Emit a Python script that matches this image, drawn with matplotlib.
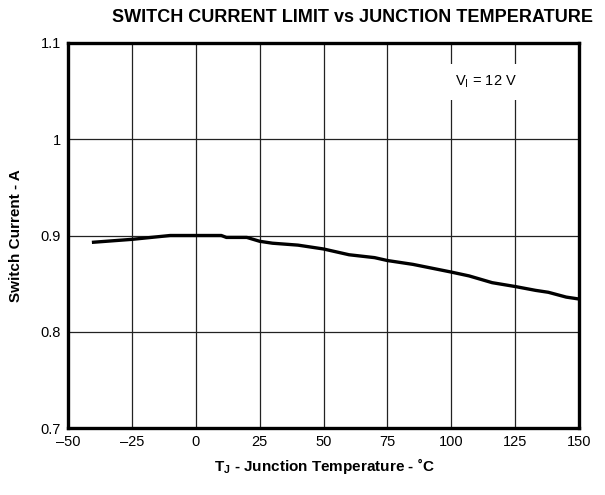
import matplotlib
matplotlib.use("Agg")
import matplotlib.pyplot as plt

plt.rcParams['font.family'] = ['Liberation Sans', 'DejaVu Sans']

temp_c = [-40, -25, -10, 0, 10, 12, 20, 25, 30, 40, 50, 60, 70, 75, 85, 100, 107, 116, 125, 133, 138, 145, 150]
current_a = [0.893, 0.896, 0.900, 0.900, 0.900, 0.898, 0.898, 0.894, 0.892, 0.890, 0.886, 0.880, 0.877, 0.874, 0.870, 0.862, 0.858, 0.851, 0.847, 0.843, 0.841, 0.836, 0.834]

x_ticks = [-50, -25, 0, 25, 50, 75, 100, 125, 150]
x_tick_labels = ['–50', '–25', '0', '25', '50', '75', '100', '125', '150']
y_ticks = [0.7, 0.8, 0.9, 1.0, 1.1]
y_tick_labels = ['0.7', '0.8', '0.9', '1', '1.1']

fig = plt.figure(figsize=(6.05, 4.95), dpi=100)
ax = fig.add_axes([68/605, 1-428/495, (579-68)/605, (428-43)/495])

ax.plot(temp_c, current_a, color='black', lw=2.4, solid_joinstyle='round', zorder=3)

ax.set_xlim(-50, 150)
ax.set_ylim(0.7, 1.1)
ax.set_xticks(x_ticks)
ax.set_xticklabels(x_tick_labels)
ax.set_yticks(y_ticks)
ax.set_yticklabels(y_tick_labels)
ax.tick_params(length=0, labelsize=10.5, pad=5)
ax.grid(True, color='#222222', lw=0.9)
for s in ax.spines.values():
    s.set_linewidth(2.4)
    s.set_color('black')

ax.text(113.5, 1.0595, r'V$_\mathregular{I}$ = 12 V', ha='center', va='center', fontsize=10.5,
        bbox=dict(facecolor='white', edgecolor='none', pad=7), zorder=4)

fig.text(353/605, 1-17/495, 'SWITCH CURRENT LIMIT vs JUNCTION TEMPERATURE', ha='center', va='center',
         fontsize=13, fontweight='bold')
fig.text(324/605, 1-466/495, r'T$_\mathregular{J}$ - Junction Temperature - ˚C', ha='center', va='center',
         fontsize=11, fontweight='bold')
fig.text(16/605, 1-236/495, 'Switch Current - A', ha='center', va='center', rotation=90,
         fontsize=11, fontweight='bold')

fig.savefig('out.png', dpi=100)
